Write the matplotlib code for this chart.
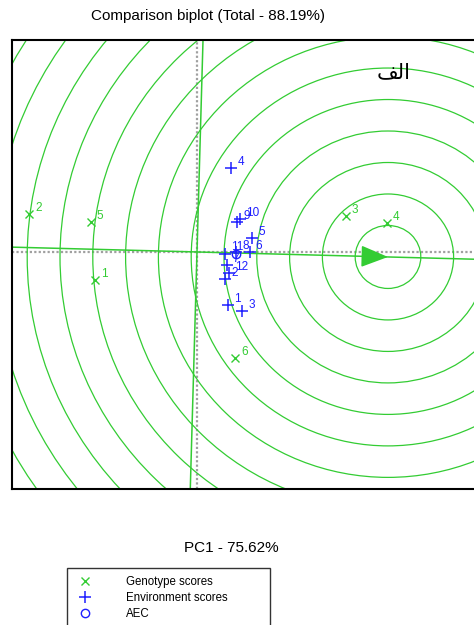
import matplotlib
matplotlib.use("Agg")
import matplotlib.pyplot as plt
from matplotlib.patches import Circle
from matplotlib.lines import Line2D
import numpy as np

plt.rcParams['font.family'] = ['Liberation Sans', 'DejaVu Sans']

# genotype scores (PC1, PC2)
gen_labels = ['1', '2', '3', '4', '5', '6']
gen_pc1 = [-1.02, -1.68, 1.485, 1.895, -1.065, 0.38]
gen_pc2 = [-0.292, 0.391, 0.370, 0.297, 0.3125, -1.104]

# environment scores (PC1, PC2)
env_labels = ['1', '2', '3', '4', '5', '6', '7', '8', '9', '10', '11', '12']
env_pc1 = [0.31, 0.28, 0.45, 0.34, 0.55, 0.525, 0.295, 0.39, 0.40, 0.43, 0.275, 0.32]
env_pc2 = [-0.557, -0.281, -0.615, 0.875, 0.141, -0.005, -0.135, -0.005, 0.3125, 0.339, -0.016, -0.219]

# average environment coordinate and ideal genotype
aec = [0.39, -0.02]
ideal = [1.91, -0.052]
circle_step = 0.328
n_circles = 14

title = 'Comparison biplot (Total - 88.19%)'
xlab = 'PC1 - 75.62%'
panel = '\uFED2\uFEDF\uFE8D'  # "الف" (presentation forms, visual order)

green = '#33cc33'
blue = '#1f1fff'

W, H = 474, 625
fig = plt.figure(figsize=(W / 100, H / 100), dpi=100)
ax = fig.add_axes([12 / W, 1 - 489 / H, (480 - 12) / W, (489 - 40) / H])
ax.set_xlim(-1.85, 2.83)
ax.set_ylim(-2.469, 2.208)
ax.set_xticks([])
ax.set_yticks([])
for s in ax.spines.values():
    s.set_linewidth(1.5)
    s.set_color('black')

# PC axes
ax.axhline(0, color='#a0a0a0', lw=1.6, ls=(0, (1, 1)), zorder=1)
ax.axvline(0, color='#a0a0a0', lw=1.6, ls=(0, (1, 1)), zorder=1)

# concentric circles around the ideal genotype
for n in range(1, n_circles + 1):
    ax.add_patch(Circle(ideal, n * circle_step, fill=False, ec=green, lw=0.9, zorder=2))

# AEC abscissa and ordinate
ax.axline((0, 0), ideal, color=green, lw=1.1, zorder=2)
ax.axline((0, 0), (-ideal[1], ideal[0]), color=green, lw=1.1, zorder=2)
d = np.array(ideal)
ax.annotate('', xy=ideal, xytext=tuple(d * 0.9),
            arrowprops=dict(arrowstyle='-|>,head_length=0.85,head_width=0.34',
                            mutation_scale=20, color=green, lw=1.1,
                            shrinkA=0, shrinkB=0), zorder=3)

# genotypes
ax.plot(gen_pc1, gen_pc2, ls='none', marker='x', ms=6, mew=1.0, color=green, zorder=4)
for lab, x, y in zip(gen_labels, gen_pc1, gen_pc2):
    ax.annotate(lab, (x, y), xytext=(4.5, 4.5), textcoords='offset points',
                color=green, fontsize=8.5, ha='left', va='center', zorder=5)

# environments
ax.plot(env_pc1, env_pc2, ls='none', marker='+', ms=8, mew=1.1, color=blue, zorder=4)
for lab, x, y in zip(env_labels, env_pc1, env_pc2):
    ax.annotate(lab, (x, y), xytext=(4.5, 4.5), textcoords='offset points',
                color=blue, fontsize=8.5, ha='left', va='center', zorder=5)

ax.plot(aec[0], aec[1], ls='none', marker='o', ms=6, mew=1.0, mfc='none', mec=blue, zorder=4)

fig.text(394 / W, 1 - 72 / H, panel, fontsize=15, ha='center', va='center',
         family=['DejaVu Sans'])
fig.text(208 / W, 1 - 16 / H, title, fontsize=11, ha='center', va='center')
fig.text(231 / W, 1 - 548 / H, xlab, fontsize=11, ha='center', va='center')

handles = [Line2D([], [], ls='none', marker='x', ms=6, mew=1.0, color=green),
           Line2D([], [], ls='none', marker='+', ms=8, mew=1.1, color=blue),
           Line2D([], [], ls='none', marker='o', ms=6, mew=1.0, mfc='none', mec=blue)]
leg = fig.legend(handles, ['Genotype scores', 'Environment scores', 'AEC'],
                 loc='upper left',
                 bbox_to_anchor=(67 / W, 1 - 569 / H, (270 - 67) / W, 0.001),
                 mode='expand', borderaxespad=0, fontsize=8.3,
                 frameon=True, fancybox=False, edgecolor='black',
                 handlelength=1.8, handletextpad=2.6, borderpad=0.7,
                 labelspacing=0.32)
leg.get_frame().set_linewidth(1.0)

fig.savefig('out.png', dpi=100)
